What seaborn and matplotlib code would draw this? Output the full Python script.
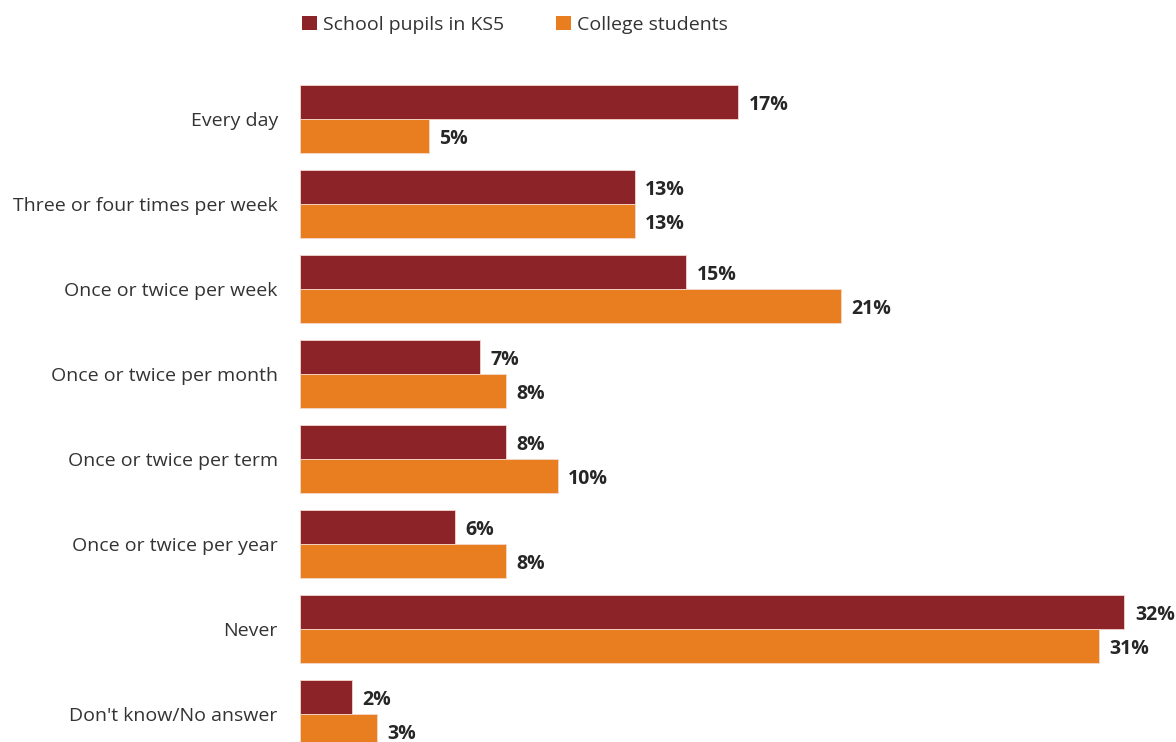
import matplotlib
matplotlib.use("Agg")
import matplotlib.pyplot as plt
from matplotlib.patches import Patch
import seaborn as sns
import pandas as pd

categories = [
    "Every day",
    "Three or four times per week",
    "Once or twice per week",
    "Once or twice per month",
    "Once or twice per term",
    "Once or twice per year",
    "Never",
    "Don't know/No answer",
]
series_names = ["School pupils in KS5", "College students"]
school_pupils = [17, 13, 15, 7, 8, 6, 32, 2]
college_students = [5, 13, 21, 8, 10, 8, 31, 3]
colors = ["#8B2329", "#E87E1F"]

df = pd.DataFrame({
    "category": categories * 2,
    "group": [series_names[0]] * len(categories) + [series_names[1]] * len(categories),
    "value": school_pupils + college_students,
})

sns.set_theme(style="white")
plt.rcParams["font.family"] = ["Open Sans", "DejaVu Sans"]

fig = plt.figure(figsize=(11.76, 7.42), dpi=100)
ax = fig.add_axes([300 / 1176, 0, 876 / 1176, (742 - 76.5) / 742])

sns.barplot(
    data=df, y="category", x="value", hue="group", order=categories,
    hue_order=series_names, palette=colors, saturation=1, orient="h", width=0.8,
    edgecolor="#F2D6CC", linewidth=0.6, legend=False, ax=ax,
)

ax.set_xlim(0, 34)
ax.set_ylim(7.5 - 14.5 / 85, -0.5)
ax.set_xlabel("")
ax.set_ylabel("")
ax.set_xticks([])
ax.tick_params(axis="y", length=0, pad=16, labelsize=14, labelcolor="#333333")
for s in ax.spines.values():
    s.set_visible(False)

# Value labels at the end of each bar, nudged slightly down
for container in ax.containers:
    texts = ax.bar_label(container, labels=[f"{v:.0f}%" for v in container.datavalues],
                         padding=7.5, fontsize=14, fontweight="bold", color="#262626")
    for t in texts:
        t.xyann = (7.5, -2)

handles = [Patch(facecolor=c, edgecolor="none") for c in colors]
fig.legend(handles, series_names, loc="center", bbox_to_anchor=(515 / 1176, 1 - 25 / 742),
           ncol=2, frameon=False, fontsize=14, handlelength=0.75, handleheight=0.75,
           handletextpad=0.3, columnspacing=2.7, labelcolor="#333333")

fig.savefig("out.png", dpi=100)
